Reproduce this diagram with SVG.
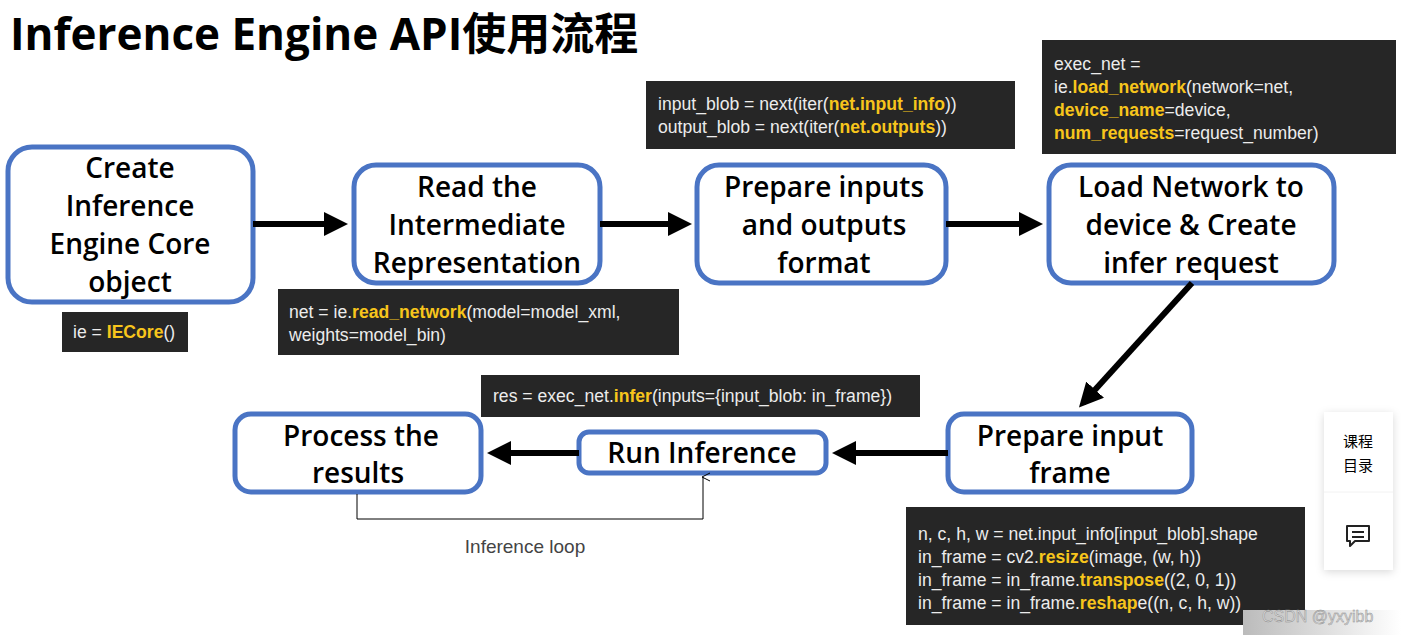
<svg xmlns="http://www.w3.org/2000/svg" width="1401" height="635" viewBox="0 0 1401 635">
<style>
.n{fill:#fff;stroke:#4a74c4;stroke-width:5}
.t{font-family:"Open Sans","Liberation Sans",sans-serif;font-size:28px;font-weight:600;fill:#000;text-anchor:middle}
.cb{fill:#262626}
.c{font-family:"Liberation Sans",sans-serif;font-size:17.6px;fill:#ececec}
.h{fill:#f7c51c;font-weight:bold}
.a{stroke:#000;stroke-width:6;fill:none;marker-end:url(#ah)}
</style>
<defs>
<marker id="ah" markerWidth="4" markerHeight="4" refX="3" refY="2" orient="auto"><path d="M0,0L4,2L0,4Z" fill="#000"/></marker>
<marker id="sa" markerWidth="10" markerHeight="10" refX="5" refY="1" orient="auto-start-reverse" markerUnits="userSpaceOnUse"><path d="M1,8L5,0L9,8" fill="none" stroke="#000" stroke-width="1"/></marker>
<filter id="sh" x="-30%" y="-20%" width="160%" height="140%"><feDropShadow dx="0" dy="2" stdDeviation="4" flood-opacity="0.15"/></filter>
<linearGradient id="g" x1="0" x2="1"><stop offset="0" stop-color="#bbb"/><stop offset="1" stop-color="#fff"/></linearGradient>
</defs>
<rect width="1401" height="635" fill="#fff"/>
<text x="10" y="50" font-family="'Open Sans','Liberation Sans','Noto Sans CJK SC',sans-serif" font-size="44" font-weight="bold">Inference Engine API使用流程</text>
<g id="n1"><rect class="n" x="8" y="147" width="245" height="155" rx="24"/>
<text class="t" x="130" y="178">Create</text><text class="t" x="130" y="216">Inference</text><text class="t" x="130" y="254">Engine Core</text><text class="t" x="130" y="292">object</text></g>
<g id="n2"><rect class="n" x="354" y="165" width="246" height="118" rx="22"/>
<text class="t" x="477" y="197">Read the</text><text class="t" x="477" y="235">Intermediate</text><text class="t" x="477" y="273">Representation</text></g>
<g id="n3"><rect class="n" x="697" y="165" width="249" height="118" rx="22"/>
<text class="t" x="824" y="197">Prepare inputs</text><text class="t" x="824" y="235">and outputs</text><text class="t" x="824" y="273">format</text></g>
<g id="n4"><rect class="n" x="1049" y="165" width="285" height="118" rx="22"/>
<text class="t" x="1191" y="197">Load Network to</text><text class="t" x="1191" y="235">device &amp; Create</text><text class="t" x="1191" y="273">infer request</text></g>
<g id="n5"><rect class="n" x="948" y="414" width="244" height="78" rx="16"/>
<text class="t" x="1070" y="446">Prepare input</text><text class="t" x="1070" y="483">frame</text></g>
<g id="n6"><rect class="n" x="579" y="432" width="247" height="41" rx="10"/>
<text class="t" x="702" y="463">Run Inference</text></g>
<g id="n7"><rect class="n" x="235" y="414" width="246" height="78" rx="16"/>
<text class="t" x="361" y="446">Process the</text><text class="t" x="358" y="483">results</text></g>
<g id="connectors">
<line class="a" x1="253" y1="224" x2="342" y2="224"/>
<line class="a" x1="600" y1="224" x2="686" y2="224"/>
<line class="a" x1="946" y1="224" x2="1037" y2="224"/>
<line class="a" x1="1192" y1="283" x2="1083" y2="403"/>
<line class="a" x1="948" y1="453" x2="838" y2="453"/>
<line class="a" x1="579" y1="453" x2="493" y2="453"/>
<polyline points="357,494 357,519 703,519 703,477" fill="none" stroke="#000" stroke-width="1" marker-end="url(#sa)"/>
<text x="525" y="553" font-family="'Liberation Sans',sans-serif" font-size="19" fill="#444" text-anchor="middle">Inference loop</text>
</g>
<g id="code">
<rect class="cb" x="62" y="312" width="126" height="40"/>
<text class="c" x="73" y="338">ie = <tspan class="h">IECore</tspan>()</text>
<rect class="cb" x="278" y="289" width="401" height="66"/>
<text class="c" x="289" y="318">net = ie.<tspan class="h">read_network</tspan>(model=model_xml,</text>
<text class="c" x="289" y="341">weights=model_bin)</text>
<rect class="cb" x="481" y="375" width="439" height="42"/>
<text class="c" x="493" y="402">res = exec_net.<tspan class="h">infer</tspan>(inputs={input_blob: in_frame})</text>
<rect class="cb" x="646" y="81" width="369" height="68"/>
<text class="c" x="658" y="110">input_blob = next(iter(<tspan class="h">net.input_info</tspan>))</text>
<text class="c" x="658" y="133">output_blob = next(iter(<tspan class="h">net.outputs</tspan>))</text>
<rect class="cb" x="1042" y="40" width="354" height="114"/>
<text class="c" x="1054" y="70">exec_net =</text>
<text class="c" x="1054" y="93">ie.<tspan class="h">load_network</tspan>(network=net,</text>
<text class="c" x="1054" y="116"><tspan class="h">device_name</tspan>=device,</text>
<text class="c" x="1054" y="139"><tspan class="h">num_requests</tspan>=request_number)</text>
<rect class="cb" x="906" y="507" width="399" height="118"/>
<text class="c" x="918" y="540">n, c, h, w = net.input_info[input_blob].shape</text>
<text class="c" x="918" y="563">in_frame = cv2.<tspan class="h">resize</tspan>(image, (w, h))</text>
<text class="c" x="918" y="586">in_frame = in_frame.<tspan class="h">transpose</tspan>((2, 0, 1))</text>
<text class="c" x="918" y="609">in_frame = in_frame.<tspan class="h">reshap</tspan>e((n, c, h, w))</text>
</g>
<rect x="1243" y="610" width="158" height="25" fill="url(#g)"/>
<text x="1262" y="622" font-family="'Liberation Sans',sans-serif" font-size="16" fill="#d8d8d8" stroke="#888" stroke-width="0.4">CSDN @yxyibb</text>
<g id="side">
<rect x="1324" y="412" width="69" height="158" fill="#fff" filter="url(#sh)"/>
<line x1="1324" y1="492" x2="1393" y2="492" stroke="#f2f2f2"/>
<text x="1358" y="447" font-family="'Noto Sans CJK SC',sans-serif" font-size="15" text-anchor="middle">课程</text>
<text x="1358" y="471" font-family="'Noto Sans CJK SC',sans-serif" font-size="15" text-anchor="middle">目录</text>
<path d="M1347,526h22v15h-14l-5,5v-5h-3z" fill="none" stroke="#222" stroke-width="2" stroke-linejoin="round"/>
<path d="M1352,532h12M1352,537h12" stroke="#222" stroke-width="2"/>
</g>
</svg>
